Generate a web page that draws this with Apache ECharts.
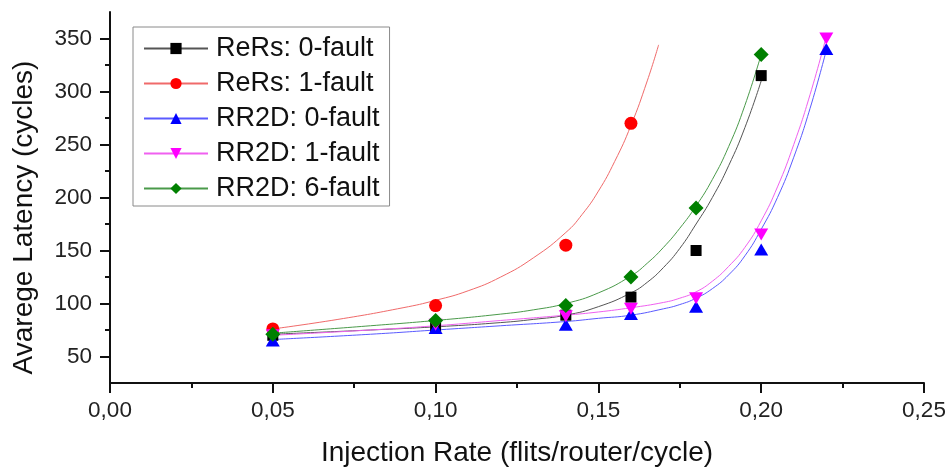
<!DOCTYPE html>
<html>
<head>
<meta charset="utf-8">
<script src="https://cdn.jsdelivr.net/npm/echarts@6/dist/echarts.min.js"></script>
<style>html,body{margin:0;padding:0;background:#fff;}#c{width:949px;height:473px;}</style>
</head>
<body>
<div id="c"></div>
<script>
// ---- data ----
const seriesNames = ['ReRs: 0-fault', 'ReRs: 1-fault', 'RR2D: 0-fault', 'RR2D: 1-fault', 'RR2D: 6-fault'];

// measured points
const rers0X = [0.05, 0.10, 0.14, 0.16, 0.18, 0.20];
const rers0Y = [70, 78, 89, 106, 150, 315];
const rers1X = [0.05, 0.10, 0.14, 0.16];
const rers1Y = [76, 98, 155, 270];
const rr2d0X = [0.05, 0.10, 0.14, 0.16, 0.18, 0.20, 0.22];
const rr2d0Y = [65, 77, 80, 90, 97, 151, 340];
const rr2d1X = [0.05, 0.10, 0.14, 0.16, 0.18, 0.20, 0.22];
const rr2d1Y = [70, 80, 88, 95, 105, 165, 350];
const rr2d6X = [0.05, 0.10, 0.14, 0.16, 0.18, 0.20];
const rr2d6Y = [71, 84, 98, 125, 190, 335];

// fitted curves
const rers0FitX = [0.05, 0.08, 0.10, 0.12, 0.13, 0.14, 0.15, 0.16, 0.165, 0.17, 0.175, 0.18, 0.185, 0.19, 0.195, 0.20];
const rers0FitY = [71, 75, 78, 82, 85, 89, 97, 110, 120, 134, 152, 175, 200, 230, 266, 310];
const rers1FitX = [0.05, 0.07, 0.09, 0.10, 0.11, 0.12, 0.13, 0.14, 0.145, 0.15, 0.155, 0.16, 0.165, 0.1685];
const rers1FitY = [76, 85, 96, 103, 112, 125, 143, 167, 184, 206, 234, 268, 310, 344];
const rr2d0FitX = [0.05, 0.08, 0.10, 0.12, 0.14, 0.15, 0.16, 0.17, 0.175, 0.18, 0.185, 0.19, 0.195, 0.20, 0.205, 0.21, 0.215, 0.22];
const rr2d0FitY = [66, 71, 75, 79, 83, 86, 89, 95, 99, 105, 114, 127, 145, 170, 200, 238, 284, 339];
const rr2d1FitX = [0.05, 0.08, 0.10, 0.12, 0.14, 0.15, 0.16, 0.17, 0.175, 0.18, 0.185, 0.19, 0.195, 0.20, 0.205, 0.21, 0.215, 0.22];
const rr2d1FitY = [70, 75, 79, 84, 89, 92, 96, 101, 105, 111, 121, 135, 153, 178, 210, 250, 297, 352];
const rr2d6FitX = [0.05, 0.08, 0.10, 0.12, 0.13, 0.14, 0.15, 0.16, 0.165, 0.17, 0.175, 0.18, 0.185, 0.19, 0.195, 0.20];
const rr2d6FitY = [72, 79, 84, 90, 94, 100, 110, 126, 138, 153, 171, 192, 217, 248, 287, 335];

// axis ticks
const yMajorTicks = [50, 100, 150, 200, 250, 300, 350];
const yMinorTicks = [75, 125, 175, 225, 275, 325];
const xTickLabels = ['0,00', '0,05', '0,10', '0,15', '0,20', '0,25'];

// ---- chart ----
const FONT = '"Liberation Sans", Arial, sans-serif';
const colors = ['#000000', '#ff0000', '#0000ff', '#ff00ff', '#008000'];
const lineColors = ['#555555', '#f06a6a', '#5a5aff', '#f060f0', '#4a9a4a'];
const symbols = ['rect', 'circle', 'triangle', 'path://M0,0L10,0L5,9Z', 'diamond'];
const symbolSizes = [11, 13, [14, 12], [14, 12], 15];

const pts = [[rers0X, rers0Y], [rers1X, rers1Y], [rr2d0X, rr2d0Y], [rr2d1X, rr2d1Y], [rr2d6X, rr2d6Y]];
const fits = [[rers0FitX, rers0FitY], [rers1FitX, rers1FitY], [rr2d0FitX, rr2d0FitY], [rr2d1FitX, rr2d1FitY], [rr2d6FitX, rr2d6FitY]];
const zip = (xs, ys) => xs.map((x, i) => [x, ys[i]]);

const series = [];
seriesNames.forEach((name, i) => {
  series.push({
    name, type: 'line', data: zip(fits[i][0], fits[i][1]),
    smooth: 0.5, showSymbol: false,
    symbol: symbols[i], symbolSize: symbolSizes[i],
    itemStyle: { color: colors[i] },
    lineStyle: { color: lineColors[i], width: 1 },
    z: 2, silent: true
  });
});
seriesNames.forEach((name, i) => {
  series.push({
    name, type: 'scatter', data: zip(pts[i][0], pts[i][1]),
    symbol: symbols[i], symbolSize: symbolSizes[i],
    itemStyle: { color: colors[i], opacity: 1 },
    z: 3 + i, silent: true
  });
});

const chart = echarts.init(document.getElementById('c'), null, { renderer: 'canvas' });
chart.setOption({
  animation: false,
  backgroundColor: '#ffffff',
  textStyle: { fontFamily: FONT },
  grid: { left: 110, right: 25, top: 12, bottom: 90, containLabel: false },
  legend: {
    data: seriesNames,
    orient: 'vertical', left: 133, top: 27,
    itemWidth: 64, itemHeight: 14, itemGap: 8,
    padding: [8, 10, 4, 10],
    borderColor: '#8a8a8a', borderWidth: 1,
    textStyle: { fontSize: 27, color: '#111', fontFamily: FONT, padding: [0, 0, 0, 3] },
    selectedMode: false
  },
  xAxis: {
    type: 'value', min: 0, max: 0.25, interval: 0.05,
    name: 'Injection Rate (flits/router/cycle)', nameLocation: 'middle', nameGap: 56,
    nameTextStyle: { fontSize: 28, color: '#111', fontFamily: FONT },
    axisLine: { show: true, onZero: false, lineStyle: { color: '#111', width: 2 } },
    axisTick: { show: true, inside: false, length: 10, lineStyle: { color: '#111', width: 2 } },
    minorTick: { show: true, splitNumber: 2, length: 5, lineStyle: { color: '#111', width: 2 } },
    axisLabel: { fontSize: 22.5, color: '#222', margin: 16, fontFamily: FONT,
      formatter: (v) => xTickLabels[Math.round(v / 0.05)] },
    splitLine: { show: false }
  },
  yAxis: [{
    type: 'value', min: 25, max: 375, position: 'left',
    name: 'Avarege Latency (cycles)', nameLocation: 'middle', nameGap: 72, nameRotate: 90,
    nameTextStyle: { fontSize: 28, color: '#111', fontFamily: FONT, padding: [0, 40, 0, 0] },
    axisLine: { show: true, onZero: false, lineStyle: { color: '#111', width: 2 } },
    axisTick: { show: true, inside: false, length: 10, customValues: yMajorTicks, lineStyle: { color: '#111', width: 2 } },
    axisLabel: { fontSize: 22.5, color: '#222', margin: 18, fontFamily: FONT, customValues: yMajorTicks },
    splitLine: { show: false }
  }, {
    type: 'value', min: 25, max: 375, position: 'left', offset: 0,
    axisLine: { show: false },
    axisTick: { show: true, inside: false, length: 5, customValues: yMinorTicks, lineStyle: { color: '#111', width: 2 } },
    axisLabel: { show: false },
    splitLine: { show: false }
  }],
  series
});
</script>
</body>
</html>
